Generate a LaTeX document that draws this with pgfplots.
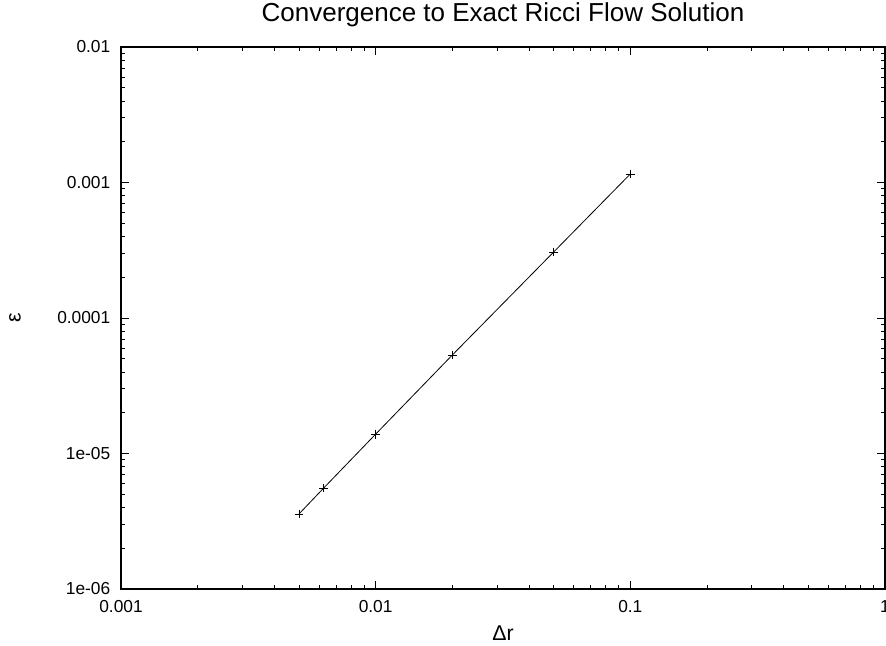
\documentclass[border=0pt]{standalone}
\usepackage{fontspec}
\setmainfont{Liberation Sans}
\usepackage{pgfplots}
\pgfplotsset{compat=1.18}
\begin{document}
\begin{tikzpicture}
\begin{axis}[name=ax, xmode=log, ymode=log, scale only axis,
 width=573pt, height=406.5pt,
 xmin=0.001, xmax=1, ymin=1e-6, ymax=0.01,
 xtick={0.001,0.01,0.1,1}, xticklabels={0.001,0.01,0.1,1},
 ytick={1e-6,1e-5,1e-4,1e-3,1e-2}, yticklabels={1e-06,1e-05,0.0001,0.001,0.01},
 tick align=inside, major tick length=6pt, minor tick length=3pt,
 tick style={black, line width=0.6pt},
 axis line style={line width=0.8pt},
 ticklabel style={font=\fontsize{13}{15}\selectfont},
 xticklabel style={yshift=-5pt},
 yticklabel style={xshift=-4.5pt},
 title={Convergence to Exact Ricci Flow Solution},
 title style={font=\fontsize{19.5}{22}\selectfont, at={(axis description cs:0.5,1.0332)}, anchor=base},
 xlabel={Δr},
 xlabel style={font=\fontsize{16}{18}\selectfont, at={(axis description cs:0.5,-0.0945)}, anchor=base},
 ylabel={ε},
 ylabel style={font=\fontsize{16}{18}\selectfont, at={(axis description cs:-0.1387,0.5)}, anchor=center},
]
\addplot[black, line width=0.6pt, mark=+, mark size=3.3pt, mark options={line width=0.6pt}] coordinates {
(0.005,3.58e-6)
(0.00625,5.56e-6)
(0.01,1.39e-5)
(0.02,5.33e-5)
(0.05,3.07e-4)
(0.1,1.156e-3)
};
\end{axis}
\pgfresetboundingbox
\path ([xshift=-90.75pt,yshift=-42pt]ax.south west) rectangle ([xshift=0.75pt,yshift=35.25pt]ax.north east);
\end{tikzpicture}
\end{document}
